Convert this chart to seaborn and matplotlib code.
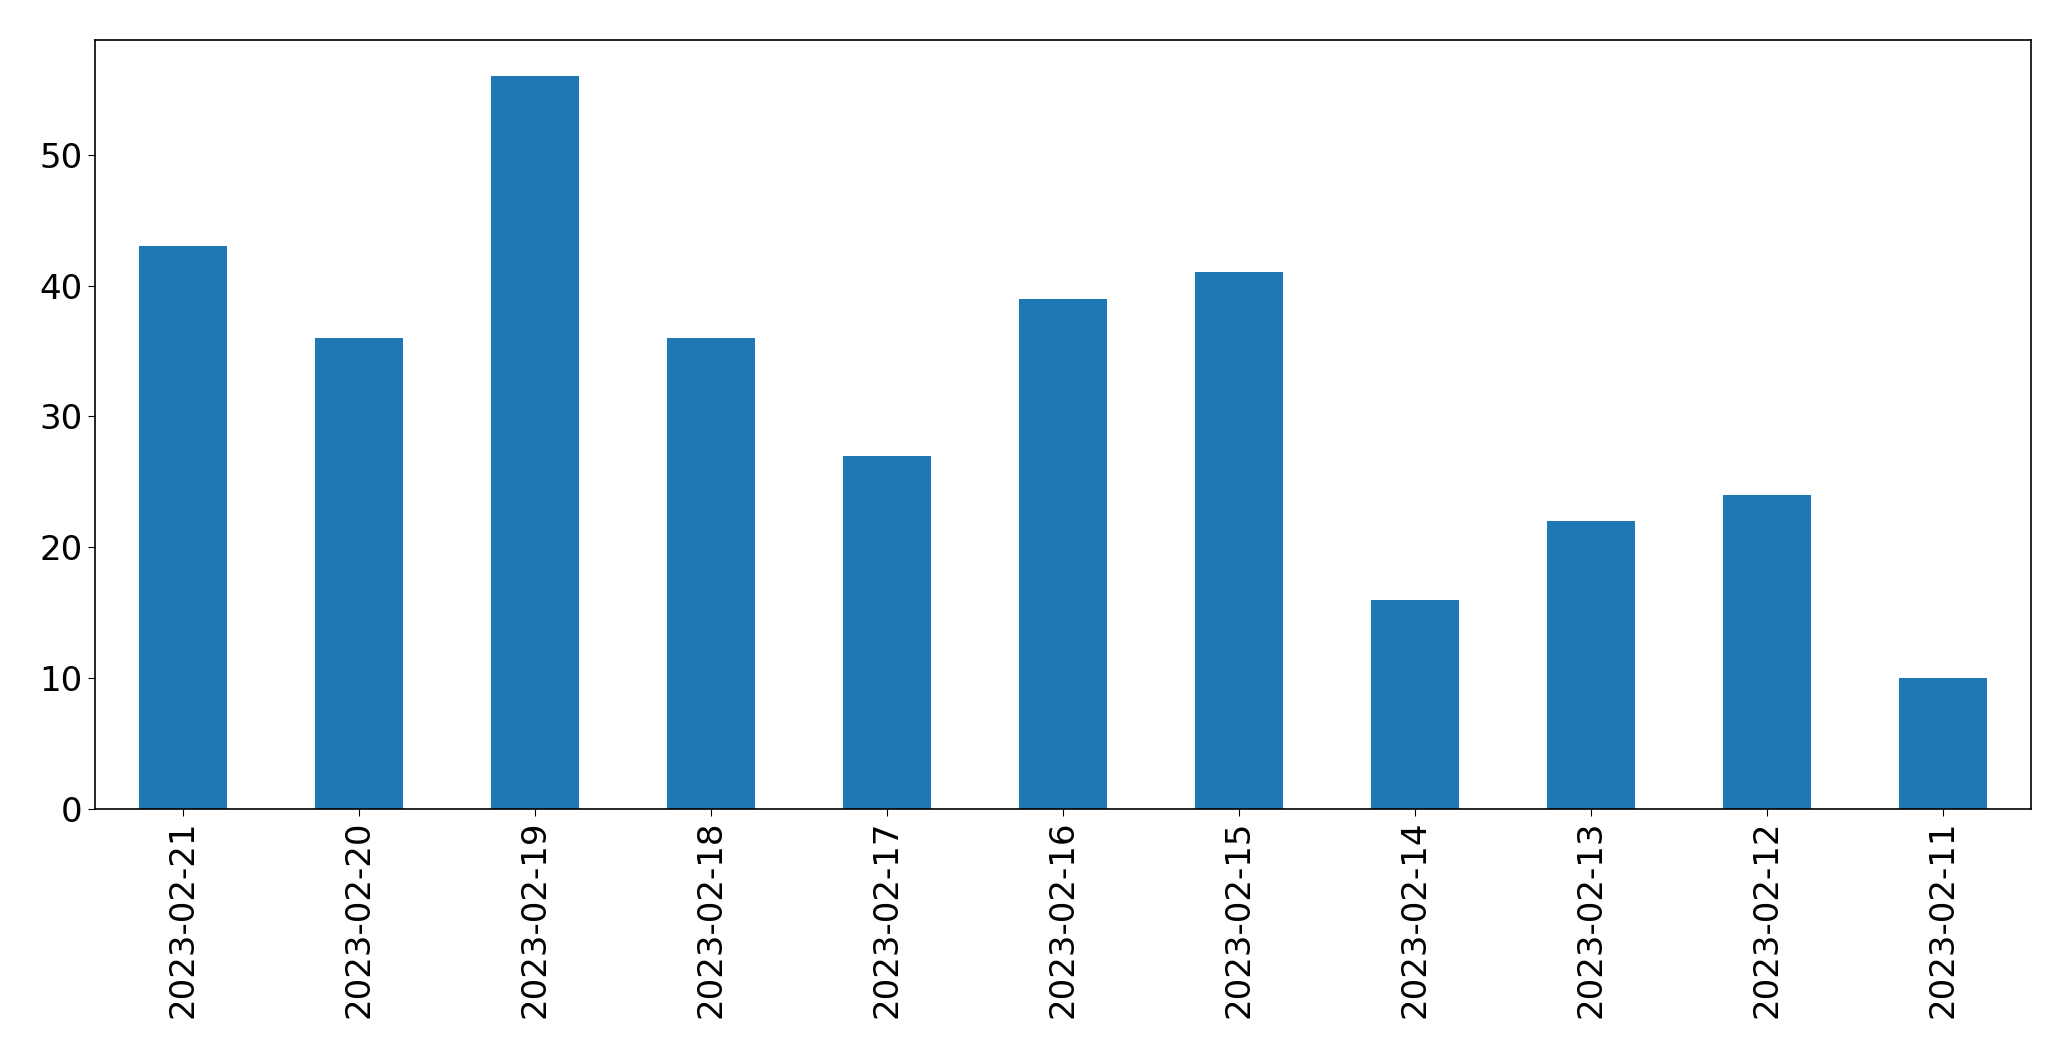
import matplotlib
matplotlib.use("Agg")
import matplotlib.pyplot as plt
import seaborn as sns
import pandas as pd

dates = ["2023-02-21", "2023-02-20", "2023-02-19", "2023-02-18", "2023-02-17",
         "2023-02-16", "2023-02-15", "2023-02-14", "2023-02-13", "2023-02-12",
         "2023-02-11"]
counts = [43, 36, 56, 36, 27, 39, 41, 16, 22, 24, 10]

df = pd.DataFrame({"date": dates, "count": counts})

fig = plt.figure(figsize=(20.71, 10.61), dpi=100)
ax = fig.add_axes([94.5 / 2071, 1 - 809 / 1061, (2031 - 94.5) / 2071, (809 - 39.5) / 1061])
sns.barplot(data=df, x="date", y="count", order=dates, color="#1f77b4",
            saturation=1, width=0.5, ax=ax)
ax.set_xlim(-0.5, len(dates) - 0.5)
ax.set_ylim(0, max(counts) * 1.05)
ax.set_xlabel("")
ax.set_ylabel("")
ax.tick_params(axis="both", labelsize=24.5, length=5)
ax.tick_params(axis="x", labelrotation=90)
for s in ax.spines.values():
    s.set_linewidth(1.2)
fig.savefig("out.png", dpi=100)
